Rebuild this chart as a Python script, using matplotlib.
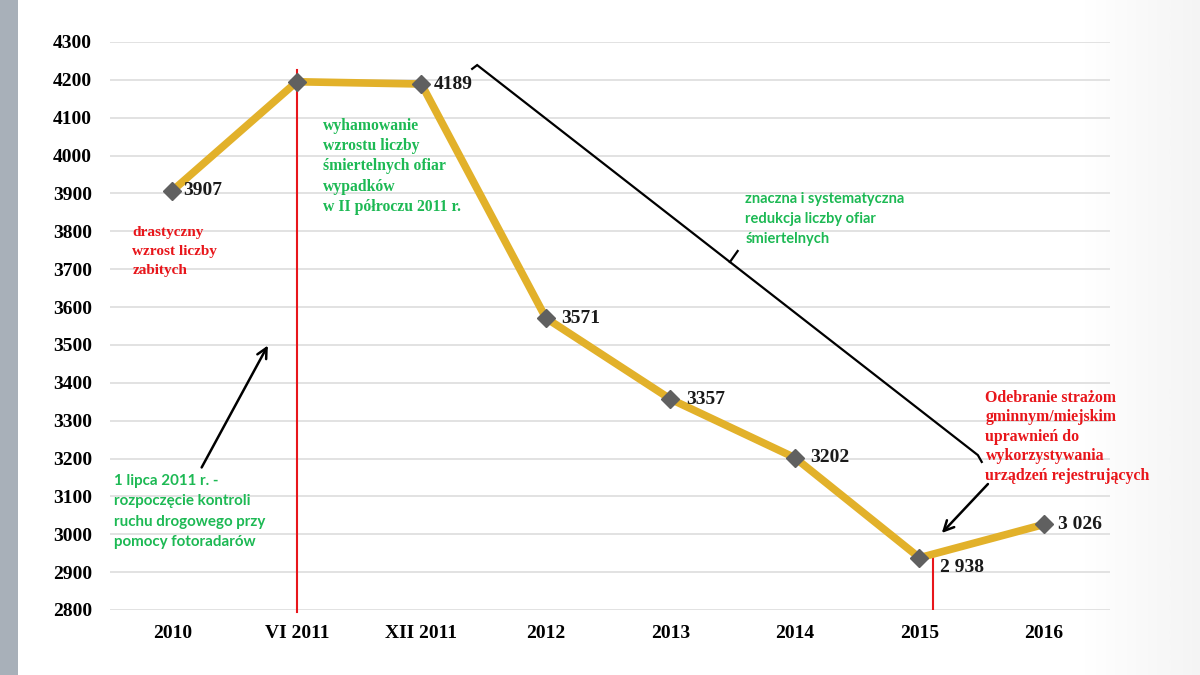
import numpy as np
import matplotlib.pyplot as plt
from matplotlib.patches import Rectangle

categories = ["2010", "VI 2011", "XII 2011", "2012", "2013", "2014", "2015", "2016"]
victims = [3907, 4195, 4189, 3571, 3357, 3202, 2938, 3026]
point_labels = ["3907", None, "4189", "3571", "3357", "3202", "2 938", "3 026"]
y_ticks = list(range(2800, 4301, 100))

GOLD = "#E2B12A"
GREY = "#606060"
RED = "#E8161B"
GREEN = "#1DB954"
SERIF = "Liberation Serif"
SANS = "Lato"

fig = plt.figure(figsize=(12, 6.75), dpi=100)
fig.patches.append(Rectangle((0, 0), 0.015, 1, transform=fig.transFigure,
                             facecolor="#A8B0B9", edgecolor="none", zorder=0))

# faint slide shading at the right edge
bg = fig.add_axes([0.90, 0, 0.10, 1], zorder=-1)
bg.imshow(np.linspace(0, 1, 64).reshape(1, -1), cmap="Greys", vmin=0, vmax=11,
          aspect="auto", extent=(0, 1, 0, 1))
bg.axis("off")

ax = fig.add_axes([0.0917, 0.0963, 0.8333, 0.8415])
ax.patch.set_alpha(0)

x = list(range(len(categories)))
ax.plot(x, victims, color=GOLD, linewidth=5.5, solid_capstyle="round", zorder=3)
ax.plot(x, victims, linestyle="none", marker="D", markersize=9,
        color=GREY, zorder=4)

ax.set_xlim(-0.5, 7.53)
ax.set_ylim(2800, 4300)
ax.set_yticks(y_ticks)
ax.set_xticks(x)
ax.set_xticklabels(categories)
for lab in ax.get_xticklabels() + ax.get_yticklabels():
    lab.set_fontfamily(SERIF)
    lab.set_fontweight("bold")
    lab.set_fontsize(14)
ax.tick_params(axis="y", length=0, pad=13)
ax.tick_params(axis="x", length=0, pad=11)
ax.grid(axis="y", color="#E2E2E2", linewidth=1.4)
ax.set_axisbelow(True)
for s in ax.spines.values():
    s.set_visible(False)

# value labels
offsets = {0: (8, 0), 2: (9, 0), 3: (11, 0), 4: (11, 0), 5: (11, 0), 6: (15, -7), 7: (10, 0)}
for i, lab in enumerate(point_labels):
    if lab is None:
        continue
    dx, dy = offsets[i]
    ax.annotate(lab, (i, victims[i]), xytext=(dx, dy), textcoords="offset points",
                ha="left", va="center",
                fontsize=14, fontweight="bold", family=SERIF, color="#1a1a1a", zorder=5)

# red vertical markers
ax.plot([1, 1], [2795, 4226], color=RED, linewidth=1.5, clip_on=False, zorder=2)
ax.plot([6.11, 6.11], [2800, 2951], color=RED, linewidth=1.5, zorder=2)

# annotation texts
ax.text(-0.32, 3813, "drastyczny\nwzrost liczby\nzabitych", color=RED, fontsize=11,
        fontweight="bold", family=SERIF, va="top", linespacing=1.6)
ax.text(1.21, 4100, "wyhamowanie\nwzrostu liczby\nśmiertelnych ofiar\nwypadków\nw II półroczu 2011 r.",
        color=GREEN, fontsize=11.3, fontweight="bold", family=SERIF, va="top", linespacing=1.36)
ax.text(4.6, 3905, "znaczna i systematyczna\nredukcja liczby ofiar\nśmiertelnych",
        color=GREEN, fontsize=10.5, fontweight="bold", family=SANS,
        va="top", linespacing=1.55)
ax.text(-0.47, 3158, "1 lipca 2011 r. -\nrozpoczęcie kontroli\nruchu drogowego przy\npomocy fotoradarów",
        color=GREEN, fontsize=10.9, fontweight="bold", family=SANS, va="top", linespacing=1.55)
ax.text(6.53, 3382, "Odebranie strażom\ngminnym/miejskim\nuprawnień do\nwykorzystywania\nurządzeń rejestrujących",
        color=RED, fontsize=11.4, fontweight="bold", family=SERIF, va="top", linespacing=1.3,
        clip_on=False)

# black arrows and bracket
ax.annotate("", xy=(0.778, 3505), xytext=(0.225, 3170),
            arrowprops=dict(arrowstyle="->", color="black", lw=1.8, mutation_scale=18))
ax.annotate("", xy=(6.164, 2998), xytext=(6.565, 3138),
            arrowprops=dict(arrowstyle="->", color="black", lw=1.8, mutation_scale=18))
ax.plot([2.408, 2.448, 6.469, 6.50], [4229, 4239, 3209, 3191], color="black", lw=1.6,
        solid_joinstyle="miter")
ax.plot([4.478, 4.54], [3719, 3748], color="black", lw=1.6)

fig.savefig("out.png", dpi=100)
